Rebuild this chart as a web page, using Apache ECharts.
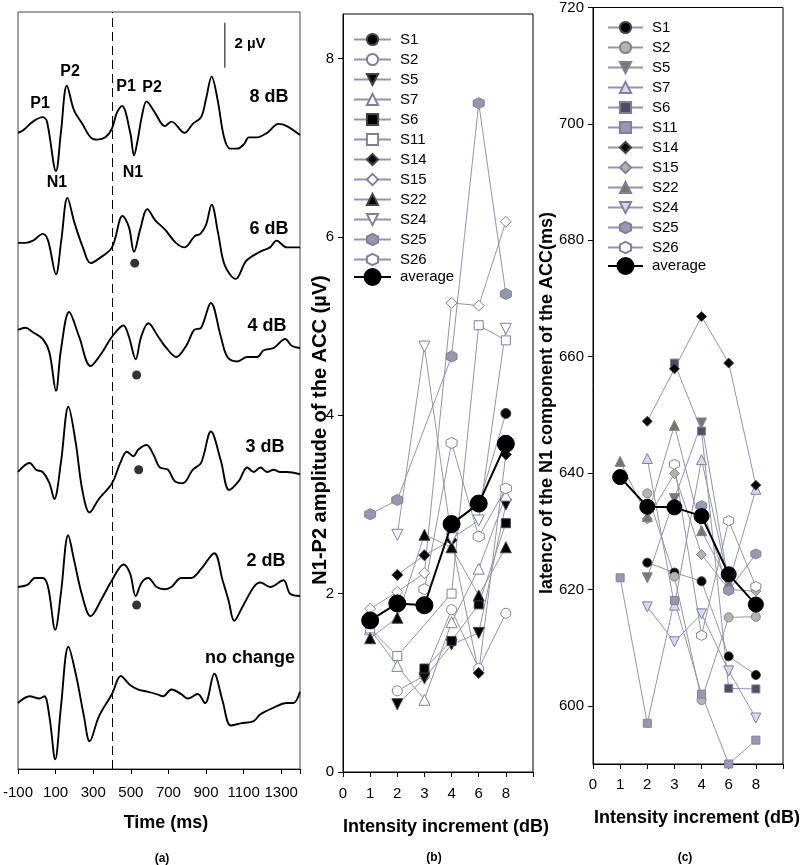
<!DOCTYPE html>
<html><head><meta charset="utf-8">
<script src="https://cdn.jsdelivr.net/npm/echarts@6/dist/echarts.min.js"></script>
<style>html,body{margin:0;padding:0;background:#fff}#c{width:800px;height:865px}</style>
</head><body><div id="c"></div>
<script>
// ---------- Panel (a): ACC waveforms ----------
const timeTicks = [-100, 100, 300, 500, 700, 900, 1100, 1300];
const traceLabels = ['8 dB', '6 dB', '4 dB', '3 dB', '2 dB', 'no change'];
const stimulusChangeTime = 400;
// [time (ms), amplitude (µV) relative to trace baseline]
const trace8dB = [[-100,0],[-74,0.1],[-21,0.5],[32,0.7],[54,0.5],[102,-1.7],[128,0],[160,2.1],[198,1.0],[242,0.4],[286,-0.2],[321,-0.3],[365,-0.2],[400,0.2],[426,0.9],[453,1.2],[497,0],[517,-1.0],[537,-0.3],[558,0.7],[584,1.4],[628,0.9],[681,0.3],[716,0.5],[786,0.0],[830,0.4],[874,0.7],[900,1.5],[930,2.5],[961,1.5],[996,-0.2],[1028,-0.7],[1067,-0.7],[1102,-0.5],[1128,-0.2],[1172,-0.2],[1225,0],[1286,0.4],[1330,0.3],[1400,-0.1]];
const trace6dB = [[-100,0],[-60,0],[-20,0.1],[32,0.4],[60,0.1],[102,-1.4],[130,0.1],[163,2.0],[200,0.9],[245,-0.2],[286,-0.9],[330,-0.7],[400,-0.2],[456,1.2],[490,0.7],[517,-0.4],[550,0.6],[588,1.5],[630,1.0],[681,0.6],[740,0.0],[786,-0.2],[840,0.3],[870,0.4],[900,0.8],[930,1.7],[965,0.4],[1000,-1.0],[1058,-1.6],[1114,-0.8],[1186,-0.4],[1240,-0.2],[1275,0.1],[1330,-0.2],[1400,-0.2]];
const trace4dB = [[-100,0],[-60,0.1],[-21,-0.1],[31,-0.4],[67,-1.0],[102,-2.7],[128,-0.9],[172,0.8],[225,-0.3],[286,-1.6],[347,-1.0],[400,-0.3],[461,0.2],[490,-0.3],[526,-1.3],[555,-0.3],[593,0.3],[646,-0.3],[689,-0.8],[742,-1.2],[795,-0.7],[837,0],[874,0.1],[926,1.2],[979,-0.3],[1014,-1.2],[1067,-1.4],[1119,-1.2],[1172,-1.2],[1207,-0.9],[1260,-0.8],[1321,-0.4],[1356,-0.7],[1400,-0.8]];
const trace3dB = [[-100,0],[-38,0.4],[-4,0.1],[31,0],[67,-0.5],[93,-1.2],[128,0.4],[168,2.9],[207,1.3],[242,-0.8],[281,-1.8],[330,-1.2],[400,-0.5],[444,0.4],[479,0.9],[514,0.7],[540,1.0],[584,1.2],[619,0.8],[654,0.2],[698,0.1],[733,-0.4],[777,-0.5],[830,0.1],[874,0.4],[926,1.8],[979,0.5],[1023,-0.8],[1075,-0.4],[1119,0.2],[1154,0],[1189,0.2],[1225,0],[1260,0.1],[1295,0],[1330,0],[1400,-0.1]];
const trace2dB = [[-100,0],[-48,0.1],[-10,0.4],[32,0.4],[60,0],[98,-1.9],[128,-0.3],[167,2.3],[198,1.2],[242,-0.4],[286,-1.3],[347,-0.5],[400,0.3],[461,1.0],[496,0.6],[526,-0.4],[558,0.2],[593,0.4],[637,0],[681,-0.1],[716,0],[768,0.4],[821,0.4],[874,0.8],[944,1.5],[988,0.3],[1020,-0.6],[1050,-1.5],[1093,-0.9],[1154,0],[1189,0.2],[1242,0],[1312,0.3],[1347,-0.3],[1400,-0.4]];
const traceNoChange = [[-100,0],[-38,0.3],[14,0.2],[40,0.3],[67,-0.6],[98,-2.5],[128,-0.2],[168,2.5],[207,1.3],[251,-0.6],[281,-1.7],[330,-0.6],[400,0.4],[447,1.2],[496,0.8],[540,0.6],[593,0.5],[637,0.4],[672,0.3],[716,0.6],[768,0.4],[803,0.2],[856,0.4],[895,0],[944,1.3],[988,0.1],[1032,-1.0],[1084,-0.9],[1154,-0.8],[1189,-0.5],[1260,-0.2],[1330,0],[1365,0],[1400,0.5]];
const traceOffsets = [28.27, 23.38, 19.51, 13.2, 8.09, 2.93]; // µV
const n1Dots = [[521,-0.9,1],[531,-2.0,2],[542,0.1,3],[531,-0.8,4]]; // [time, µV, trace index]
const scaleBar = [1000, 31.16, 2]; // [time, bottom µV, length µV]

// ---------- Panels (b) and (c) ----------
const xCategories = ['0','1','2','3','4','6','8',''];
const subjects = ['S1','S2','S5','S7','S6','S11','S14','S15','S22','S24','S25','S26','average'];
// N1-P2 amplitude (µV) at 1,2,3,4,6,8 dB
const ampS1  = [null, null, null, 2.78, 3.0, 4.02];
const ampS2  = [null, 0.91, 1.08, 1.82, 1.16, 1.78];
const ampS5  = [null, 0.76, 1.05, 1.43, 1.56, 3.0];
const ampS7  = [1.6, 1.19, 0.81, 1.68, 2.28, 3.1];
const ampS6  = [null, null, 1.16, 1.47, 1.88, 2.79];
const ampS11 = [1.61, 1.30, null, 2.0, 5.01, 4.84];
const ampS14 = [null, 2.21, 2.43, 2.6, 1.11, 3.56];
const ampS15 = [1.83, 2.02, 2.23, 5.26, 5.23, 6.17];
const ampS22 = [1.50, 1.73, 2.66, 2.52, 1.98, 2.52];
const ampS24 = [null, 2.66, 4.77, 2.62, 2.82, 4.97];
const ampS25 = [2.89, 3.05, null, 4.66, 7.5, 5.36];
const ampS26 = [null, null, 2.05, 3.69, 2.64, 3.18];
const ampAvg = [1.70, 1.89, 1.87, 2.78, 3.01, 3.68];
// N1 latency (ms)
const latS1  = [null, 624.6, 622.9, 621.4, 608.5, 605.3];
const latS2  = [null, 636.5, 622.2, 601.0, 615.2, 615.3];
const latS5  = [null, 622.0, 635.6, 648.6, 621.0, null];
const latS7  = [null, 642.5, 617.3, 642.3, 621.0, 637.2];
const latS6  = [null, null, 658.9, 647.2, 603.0, 602.9];
const latS11 = [622.0, 597.0, 618.1, 602.0, 590.0, 594.1];
const latS14 = [null, 648.9, 657.9, 666.9, 658.9, 637.9];
const latS15 = [null, 632.1, 639.9, 626.0, 620.0, 619.7];
const latS22 = [642.0, 632.5, 648.2, 630.1, 621.0, null];
const latS24 = [null, 617.0, 611.0, 615.8, 606.0, 597.9];
const latS25 = [null, null, null, 634.4, 619.8, 626.1];
const latS26 = [null, null, 641.5, 612.1, 631.8, 620.5];
const latAvg = [639.3, 634.2, 634.1, 632.6, 622.6, 617.4];
const ampTicks = [0, 2, 4, 6, 8];
const latTicks = [600, 620, 640, 660, 680, 700, 720];

const ampData = [ampS1, ampS2, ampS5, ampS7, ampS6, ampS11, ampS14, ampS15, ampS22, ampS24, ampS25, ampS26, ampAvg];
const latData = [latS1, latS2, latS5, latS7, latS6, latS11, latS14, latS15, latS22, latS24, latS25, latS26, latAvg];
const traces = [trace8dB, trace6dB, trace4dB, trace3dB, trace2dB, traceNoChange];

// ---------- styles ----------
const FONT = '"Liberation Sans", Arial, Helvetica, sans-serif';
const HEX = 'path://M0,-1L0.866,-0.5L0.866,0.5L0,1L-0.866,0.5L-0.866,-0.5Z';
const LINE_GRAY = '#9494ae';
const shapes = {
  S1:['circle',0,10], S2:['circle',0,10], S5:['triangle',180,11], S7:['triangle',0,11],
  S6:['rect',0,9], S11:['rect',0,9], S14:['diamond',0,11], S15:['diamond',0,11],
  S22:['triangle',0,11], S24:['triangle',180,11], S25:[HEX,0,11], S26:[HEX,0,11], average:['circle',0,17]
};
const fillB = {S1:'#000',S2:'#fff',S5:'#000',S7:'#fff',S6:'#000',S11:'#fff',S14:'#000',S15:'#fff',S22:'#000',S24:'#fff',S25:'#9696ac',S26:'#fff',average:'#000'};
const fillC = {S1:'#000',S2:'#b5b5ae',S5:'#7a7a72',S7:'#d8d8f2',S6:'#4d4d66',S11:'#9898b2',S14:'#000',S15:'#b3b3ab',S22:'#75756c',S24:'#d8d8f2',S25:'#9898b2',S26:'#fff',average:'#000'};

const series = [];
traces.forEach((tr, i) => {
  const s = {
    type: 'line', xAxisIndex: 0, yAxisIndex: 0, showSymbol: false, smooth: 0.35,
    lineStyle: { color: '#000', width: 1.9 }, silent: true,
    data: tr.map(p => [p[0], p[1] + traceOffsets[i]])
  };
  if (i === 0) {
    s.markLine = { silent: true, symbol: 'none', label: { show: false },
      lineStyle: { color: '#000', width: 1, type: [9, 5] }, data: [{ xAxis: stimulusChangeTime }] };
  }
  series.push(s);
});
series.push({ type: 'scatter', xAxisIndex: 0, yAxisIndex: 0, symbolSize: 9, itemStyle: { color: '#000' }, silent: true,
  data: n1Dots.map(d => [d[0], d[1] + traceOffsets[d[2]]]) });
series.push({ type: 'line', xAxisIndex: 0, yAxisIndex: 0, showSymbol: false, silent: true,
  lineStyle: { color: '#555', width: 1.5 },
  data: [[scaleBar[0], scaleBar[1]], [scaleBar[0], scaleBar[1] + scaleBar[2]]] });

function subjSeries(name, vals, idx, fills, prefix) {
  const sh = shapes[name];
  const avg = name === 'average';
  const size = avg ? (idx === 1 ? 17 : 15) : (idx === 1 ? sh[2] : sh[2] - 1);
  return {
    name: prefix + name, type: 'line', xAxisIndex: idx, yAxisIndex: idx,
    connectNulls: true, symbol: sh[0], symbolRotate: sh[1], symbolSize: size, showAllSymbol: true,
    z: avg ? 5 : 2,
    lineStyle: { color: avg ? '#000' : LINE_GRAY, width: avg ? 2 : 1 },
    itemStyle: { color: fills[name], borderColor: avg ? '#000' : (fills[name] === '#000' ? '#444' : '#80809a'), borderWidth: 1 },
    emphasis: { disabled: true },
    data: [null].concat(vals).concat([null])
  };
}
subjects.forEach((n, i) => series.push(subjSeries(n, ampData[i], 1, fillB, '')));
subjects.forEach((n, i) => series.push(subjSeries(n, latData[i], 2, fillC, 'c:')));

const axisLineStyle = { show: true, lineStyle: { color: '#000', width: 1 } };
const tickStyle = { show: true, length: 5, lineStyle: { color: '#000' } };
const labelStyle = { color: '#000', fontSize: 15, fontFamily: FONT, formatter: v => String(v) };

function legend(names, left, top, iw, ih) {
  return { data: names, orient: 'vertical', left: left, top: top, itemWidth: iw, itemHeight: ih, itemGap: 5, padding: 0,
    selectedMode: false, formatter: n => n.replace('c:', ''),
    textStyle: { color: '#000', fontSize: 15, fontFamily: FONT, padding: [0, 0, 0, 4] } };
}
const subjNoAvg = subjects.slice(0, 12);

function txt(x, y, text, font, rot) {
  return { type: 'text', x: x, y: y, rotation: rot || 0, silent: true,
    style: { text: text, font: font, fill: '#000', align: 'center', verticalAlign: 'middle' } };
}
const B16 = 'bold 16px ' + FONT, B18 = 'bold 18px ' + FONT;
const graphics = [
  txt(250, 44, '2 \u00b5V', 'bold 15px ' + FONT),
  txt(40, 104, 'P1', B16), txt(70, 72, 'P2', B16), txt(57, 183, 'N1', B16),
  txt(126, 87, 'P1', B16), txt(152, 88, 'P2', B16), txt(133, 173, 'N1', B16),
  txt(269, 97, traceLabels[0], B18), txt(269, 229, traceLabels[1], B18), txt(267, 326, traceLabels[2], B18),
  txt(265, 447, traceLabels[3], B18), txt(266, 561, traceLabels[4], B18), txt(250, 658, traceLabels[5], B18),
  txt(166, 823, 'Time (ms)', B18),
  txt(446, 827, 'Intensity increment (dB)', B18),
  txt(697, 818, 'Intensity increment (dB)', B18),
  txt(320, 430, 'N1-P2 amplitude of the ACC (\u00b5V)', 'bold 20px ' + FONT, Math.PI / 2),
  txt(547, 403, 'latency of the N1 component of the ACC(ms)', B18, Math.PI / 2),
  txt(162, 859, '(a)', 'bold 12px ' + FONT), txt(434, 858, '(b)', 'bold 12px ' + FONT), txt(685, 858, '(c)', 'bold 12px ' + FONT)
];

const option = {
  animation: false,
  backgroundColor: '#fff',
  grid: [
    { left: 15, top: 12, width: 285, height: 757, show: true, borderColor: '#444', borderWidth: 1 },
    { left: 343, top: 14, width: 190, height: 758, show: true, borderColor: '#000', borderWidth: 1 },
    { left: 593, top: 5, width: 190, height: 759, show: true, borderColor: '#000', borderWidth: 1 }
  ],
  xAxis: [
    { gridIndex: 0, type: 'value', min: -100, max: 1400, interval: 200, axisLine: axisLineStyle,
      axisTick: Object.assign({}, tickStyle, { customValues: timeTicks.concat([1400]) }),
      axisLabel: Object.assign({}, labelStyle, { customValues: timeTicks, margin: 16 }), splitLine: { show: false } },
    { gridIndex: 1, type: 'category', data: xCategories, boundaryGap: false, axisLine: axisLineStyle,
      axisTick: Object.assign({}, tickStyle, { alignWithLabel: true, interval: 0 }),
      axisLabel: Object.assign({}, labelStyle, { margin: 14, interval: 0 }), splitLine: { show: false } },
    { gridIndex: 2, type: 'category', data: xCategories, boundaryGap: false, axisLine: axisLineStyle,
      axisTick: Object.assign({}, tickStyle, { alignWithLabel: true, interval: 0 }),
      axisLabel: Object.assign({}, labelStyle, { margin: 13, interval: 0 }), splitLine: { show: false } }
  ],
  yAxis: [
    { gridIndex: 0, type: 'value', min: 0, max: 33.64, show: false, splitLine: { show: false } },
    { gridIndex: 1, type: 'value', min: 0, max: 8.5, interval: 2, axisLine: axisLineStyle,
      axisTick: Object.assign({}, tickStyle, { customValues: ampTicks }),
      axisLabel: Object.assign({}, labelStyle, { customValues: ampTicks, margin: 9 }), splitLine: { show: false } },
    { gridIndex: 2, type: 'value', min: 590, max: 720, interval: 10, axisLine: axisLineStyle,
      axisTick: Object.assign({}, tickStyle, { customValues: latTicks }),
      axisLabel: Object.assign({}, labelStyle, { customValues: latTicks, margin: 9 }), splitLine: { show: false } }
  ],
  legend: [
    legend(subjNoAvg, 353, 32, 37, 14),
    legend(['average'], 353, 268, 37, 20),
    legend(subjNoAvg.map(n => 'c:' + n), 607, 20, 35, 14),
    legend(['c:average'], 607, 257, 35, 20)
  ],
  graphic: graphics,
  series: series
};
const chart = echarts.init(document.getElementById('c'), null, { renderer: 'canvas' });
chart.setOption(option);
</script></body></html>
